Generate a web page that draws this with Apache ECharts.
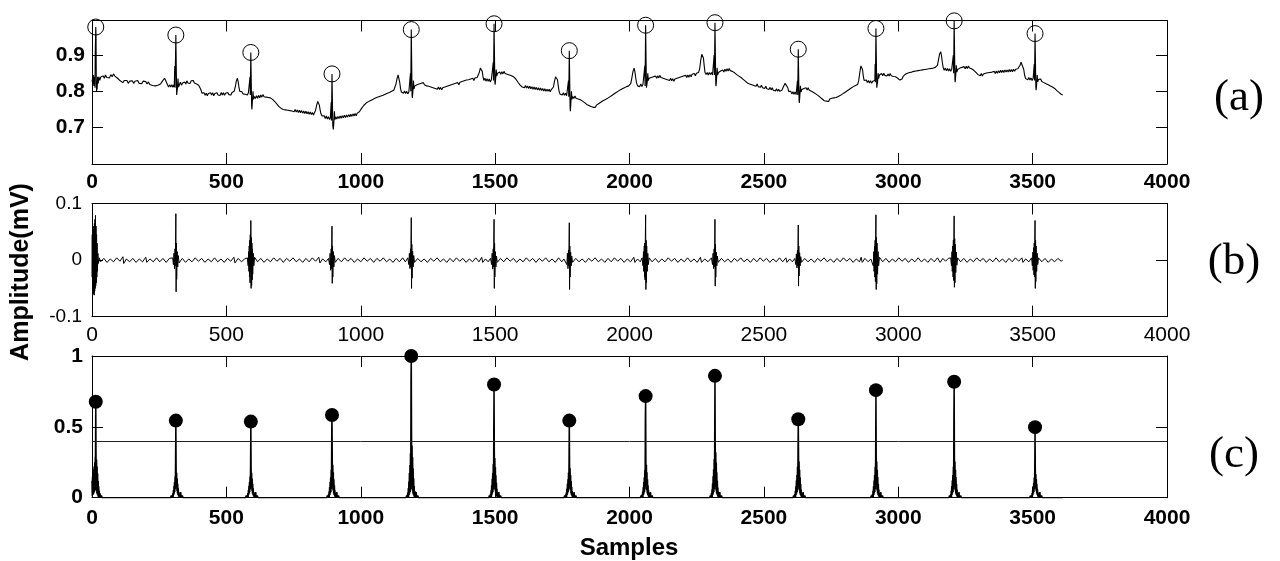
<!DOCTYPE html>
<html>
<head>
<meta charset="utf-8">
<script src="https://cdn.jsdelivr.net/npm/echarts@6/dist/echarts.min.js"></script>
<style>html,body{margin:0;padding:0;background:#fff}#chart{width:1280px;height:561px}</style>
</head>
<body>
<div id="chart"></div>
<script>
// ---------------- DATA ----------------
const panelLabels = ['(a)', '(b)', '(c)'];
const xAxisTitle = 'Samples';
const yAxisTitle = 'Amplitude(mV)';
const threshold = 0.4;

// detected R-peak sample positions
const rPeakSamples = [14, 312, 591, 893, 1188, 1496, 1776, 2060, 2318, 2628, 2917, 3208, 3509];
// R-peak amplitudes in the raw ECG (panel a)
const rPeakAmp = [0.977, 0.955, 0.907, 0.848, 0.970, 0.986, 0.912, 0.982, 0.989, 0.916, 0.973, 0.994, 0.959];
// detection-signal peak values (panel c)
const detPeakAmp = [0.677, 0.544, 0.537, 0.584, 1.0, 0.799, 0.544, 0.717, 0.86, 0.554, 0.759, 0.818, 0.498];

// raw ECG trace (panel a): [sample, mV]
const ecgRaw = [
[0,0.832],[3,0.82],[5,0.845],[7,0.815],[9,0.84],[11,0.81],[12,0.9],[13,0.94],[14,0.977],[15,0.955],[16,0.82],[17,0.80],[18,0.83],[19,0.805],[21,0.84],[23,0.822],[26,0.84],[29,0.83],[33,0.84],[37,0.835],
[42,0.842],[46,0.836],[50,0.845],[55,0.838],[60,0.843],[65,0.837],[70,0.846],[75,0.84],[80,0.848],[85,0.842],[90,0.845],[95,0.836],[100,0.839],[105,0.829],[110,0.832],[115,0.824],[120,0.83],[125,0.826],[130,0.83],[135,0.822],[140,0.828],[145,0.823],[150,0.829],[155,0.822],[160,0.828],[165,0.824],[170,0.83],[175,0.822],[180,0.827],[185,0.821],[190,0.828],[195,0.823],[200,0.827],[205,0.82],[210,0.826],[215,0.819],[220,0.823],[225,0.816],[230,0.821],[235,0.815],[240,0.82],[245,0.817],[250,0.822],[255,0.82],[260,0.826],[265,0.83],[270,0.836],[273,0.838],[277,0.825],[281,0.818],[285,0.812],[289,0.818],[293,0.812],[297,0.818],[301,0.811],[304,0.818],
[306,0.812],[308,0.87],[309,0.81],[312,0.955],[315,0.79],[316,0.786],[318,0.81],[320,0.835],[322,0.812],[325,0.818],
[329,0.825],[333,0.817],[337,0.823],[341,0.818],[345,0.826],[349,0.82],[353,0.829],[357,0.823],[361,0.828],[365,0.822],[369,0.829],[373,0.824],[377,0.83],[381,0.823],[385,0.827],[389,0.82],[393,0.824],[397,0.817],[401,0.815],[405,0.805],[409,0.795],[413,0.79],[417,0.796],[421,0.789],[425,0.795],[429,0.788],[433,0.794],[437,0.789],[441,0.796],[445,0.79],[449,0.796],[453,0.788],[457,0.794],[461,0.789],[465,0.796],[469,0.79],[473,0.795],[477,0.789],[481,0.797],[485,0.79],[489,0.796],[493,0.789],[497,0.795],[501,0.79],[505,0.797],[509,0.791],[513,0.796],[517,0.79],[521,0.797],[525,0.792],[529,0.8],[533,0.812],[537,0.828],[541,0.836],[544,0.826],[547,0.81],[550,0.8],[554,0.795],[558,0.799],[562,0.793],[566,0.798],[570,0.792],[574,0.797],[578,0.79],[582,0.796],[585,0.792],
[586,0.80],[588,0.84],[589,0.79],[591,0.907],[594,0.76],[595,0.75],[597,0.775],[599,0.80],[601,0.778],[604,0.786],
[608,0.78],[612,0.788],[616,0.781],[620,0.789],[624,0.782],[628,0.79],[632,0.784],[636,0.791],[640,0.785],[644,0.79],[648,0.784],[652,0.789],[656,0.783],[660,0.788],[664,0.782],[668,0.786],[672,0.778],[676,0.78],[680,0.772],[684,0.773],[688,0.765],[692,0.766],[696,0.758],[700,0.76],[704,0.753],[708,0.757],[712,0.75],[716,0.755],[720,0.749],[724,0.754],[728,0.748],[732,0.753],[736,0.747],[740,0.752],[744,0.746],[748,0.751],[752,0.744],[756,0.75],[760,0.743],[764,0.749],[768,0.742],[772,0.748],[776,0.741],[780,0.747],[784,0.74],[788,0.746],[792,0.739],[796,0.745],[800,0.738],[804,0.744],[808,0.737],[812,0.743],[816,0.736],[820,0.742],[824,0.735],[828,0.74],[832,0.748],[836,0.762],[840,0.772],[843,0.775],[846,0.762],[849,0.748],[852,0.738],[856,0.732],[860,0.728],[864,0.733],[868,0.725],[872,0.732],[876,0.724],[880,0.73],[884,0.722],[887,0.728],
[888,0.73],[890,0.77],[891,0.72],[893,0.848],[896,0.705],[898,0.695],[900,0.715],[902,0.745],[904,0.722],[907,0.73],
[911,0.724],[915,0.731],[919,0.725],[923,0.732],[927,0.726],[931,0.733],[935,0.727],[939,0.734],[943,0.728],[947,0.735],[951,0.729],[955,0.736],[959,0.73],[963,0.737],[967,0.731],[971,0.738],[975,0.732],[979,0.739],[983,0.733],[987,0.74],[991,0.735],[995,0.744],[999,0.745],[1003,0.753],[1007,0.754],[1011,0.761],[1015,0.76],[1019,0.767],[1023,0.765],[1027,0.771],[1031,0.768],[1035,0.774],[1039,0.771],[1043,0.777],[1047,0.774],[1051,0.78],[1055,0.777],[1059,0.783],[1063,0.779],[1067,0.785],[1071,0.781],[1075,0.787],[1079,0.783],[1083,0.789],[1087,0.785],[1091,0.792],[1095,0.788],[1099,0.795],[1103,0.791],[1107,0.797],[1111,0.793],[1115,0.8],[1119,0.796],[1123,0.803],[1127,0.805],[1131,0.82],[1135,0.835],[1139,0.845],[1142,0.84],[1145,0.825],[1148,0.808],[1151,0.798],[1155,0.802],[1159,0.795],[1163,0.801],[1167,0.794],[1171,0.8],[1175,0.793],[1179,0.799],[1183,0.794],
[1184,0.80],[1185,0.85],[1186,0.8],[1188,0.97],[1191,0.79],[1192,0.782],[1194,0.8],[1196,0.83],[1198,0.806],[1201,0.815],
[1205,0.811],[1209,0.818],[1213,0.813],[1217,0.82],[1221,0.815],[1225,0.822],[1229,0.817],[1233,0.824],[1237,0.818],[1241,0.822],[1245,0.815],[1249,0.82],[1253,0.814],[1257,0.819],[1261,0.812],[1265,0.817],[1269,0.81],[1273,0.815],[1277,0.808],[1281,0.813],[1285,0.806],[1289,0.812],[1293,0.805],[1297,0.811],[1301,0.804],[1305,0.81],[1309,0.805],[1313,0.812],[1317,0.807],[1321,0.814],[1325,0.809],[1329,0.816],[1333,0.811],[1337,0.818],[1341,0.813],[1345,0.82],[1349,0.815],[1353,0.822],[1357,0.817],[1361,0.824],[1365,0.818],[1369,0.825],[1373,0.82],[1377,0.827],[1381,0.822],[1385,0.829],[1389,0.824],[1393,0.831],[1397,0.826],[1401,0.832],[1405,0.827],[1409,0.834],[1413,0.829],[1417,0.836],[1421,0.83],[1425,0.837],[1429,0.832],[1433,0.838],[1437,0.84],[1441,0.852],[1445,0.864],[1449,0.866],[1452,0.855],[1455,0.84],[1458,0.83],[1462,0.836],[1466,0.828],[1470,0.835],[1474,0.828],[1478,0.834],[1482,0.826],[1486,0.832],[1490,0.827],
[1491,0.835],[1493,0.88],[1494,0.83],[1496,0.986],[1499,0.825],[1500,0.818],[1502,0.835],[1504,0.86],[1506,0.842],[1509,0.85],
[1513,0.845],[1517,0.853],[1521,0.847],[1525,0.854],[1529,0.848],[1533,0.855],[1537,0.849],[1541,0.854],[1545,0.847],[1549,0.852],[1553,0.845],[1557,0.85],[1561,0.843],[1565,0.848],[1569,0.84],[1573,0.843],[1577,0.834],[1581,0.835],[1585,0.825],[1589,0.826],[1593,0.817],[1597,0.82],[1601,0.812],[1605,0.817],[1609,0.81],[1613,0.816],[1617,0.809],[1621,0.815],[1625,0.808],[1629,0.814],[1633,0.807],[1637,0.813],[1641,0.806],[1645,0.812],[1649,0.805],[1653,0.811],[1657,0.804],[1661,0.81],[1665,0.803],[1669,0.809],[1673,0.802],[1677,0.808],[1681,0.801],[1685,0.807],[1689,0.8],[1693,0.806],[1697,0.8],[1701,0.806],[1705,0.799],[1709,0.805],[1713,0.801],[1717,0.812],[1721,0.828],[1725,0.84],[1729,0.845],[1732,0.832],[1735,0.815],[1738,0.8],[1742,0.792],[1746,0.797],[1750,0.79],[1754,0.796],[1758,0.789],[1762,0.795],[1766,0.788],[1770,0.793],
[1771,0.79],[1773,0.83],[1774,0.785],[1776,0.912],[1779,0.755],[1780,0.745],[1782,0.77],[1784,0.80],[1786,0.778],[1789,0.786],
[1793,0.78],[1797,0.787],[1801,0.781],[1805,0.786],[1809,0.779],[1813,0.784],[1817,0.777],[1821,0.781],[1825,0.773],[1829,0.777],[1833,0.769],[1837,0.772],[1841,0.764],[1845,0.768],[1849,0.761],[1853,0.765],[1857,0.758],[1861,0.762],[1865,0.756],[1869,0.76],[1873,0.756],[1877,0.762],[1881,0.759],[1885,0.766],[1889,0.763],[1893,0.77],[1897,0.767],[1901,0.774],[1905,0.771],[1909,0.777],[1913,0.774],[1917,0.78],[1921,0.777],[1925,0.784],[1929,0.781],[1933,0.788],[1937,0.785],[1941,0.792],[1945,0.789],[1949,0.796],[1953,0.793],[1957,0.8],[1961,0.797],[1965,0.804],[1969,0.8],[1973,0.807],[1977,0.803],[1981,0.81],[1985,0.806],[1989,0.813],[1993,0.809],[1997,0.815],[2001,0.812],[2005,0.822],[2009,0.838],[2013,0.855],[2017,0.864],[2020,0.855],[2023,0.838],[2026,0.824],[2030,0.815],[2034,0.82],[2038,0.813],[2042,0.82],[2046,0.813],[2050,0.819],[2054,0.814],
[2055,0.82],[2057,0.87],[2058,0.815],[2060,0.982],[2063,0.81],[2064,0.805],[2066,0.825],[2068,0.85],[2070,0.83],[2073,0.836],
[2077,0.831],[2081,0.838],[2085,0.833],[2089,0.84],[2093,0.835],[2097,0.842],[2101,0.836],[2105,0.843],[2109,0.837],[2113,0.844],[2117,0.838],[2121,0.843],[2125,0.836],[2129,0.841],[2133,0.834],[2137,0.839],[2141,0.832],[2145,0.837],[2149,0.83],[2153,0.836],[2157,0.829],[2161,0.835],[2165,0.828],[2169,0.834],[2173,0.829],[2177,0.836],[2181,0.831],[2185,0.838],[2189,0.833],[2193,0.84],[2197,0.835],[2201,0.842],[2205,0.837],[2209,0.844],[2213,0.838],[2217,0.845],[2221,0.839],[2225,0.846],[2229,0.84],[2233,0.847],[2237,0.842],[2241,0.849],[2245,0.843],[2249,0.85],[2253,0.845],[2257,0.852],[2261,0.862],[2265,0.885],[2269,0.902],[2272,0.905],[2275,0.892],[2278,0.87],[2281,0.852],[2285,0.846],[2289,0.852],[2293,0.845],[2297,0.852],[2301,0.846],[2305,0.852],[2309,0.845],[2312,0.85],
[2313,0.85],[2315,0.9],[2316,0.845],[2318,0.989],[2321,0.82],[2322,0.814],[2324,0.835],[2326,0.865],[2328,0.845],[2331,0.852],
[2335,0.848],[2339,0.856],[2343,0.851],[2347,0.859],[2351,0.853],[2355,0.861],[2359,0.855],[2363,0.862],[2367,0.856],[2371,0.863],[2375,0.857],[2379,0.862],[2383,0.855],[2387,0.859],[2391,0.851],[2395,0.854],[2399,0.846],[2403,0.85],[2407,0.842],[2411,0.846],[2415,0.838],[2419,0.841],[2423,0.833],[2427,0.836],[2431,0.828],[2435,0.831],[2439,0.823],[2443,0.827],[2447,0.82],[2451,0.825],[2455,0.818],[2459,0.823],[2463,0.816],[2467,0.821],[2471,0.814],[2475,0.82],[2479,0.813],[2483,0.818],[2487,0.811],[2491,0.817],[2495,0.81],[2499,0.815],[2503,0.808],[2507,0.814],[2511,0.807],[2515,0.812],[2519,0.805],[2523,0.811],[2527,0.804],[2531,0.81],[2535,0.803],[2539,0.808],[2543,0.801],[2547,0.807],[2551,0.8],[2555,0.806],[2559,0.8],[2563,0.805],[2567,0.803],[2571,0.81],[2575,0.815],[2579,0.822],[2583,0.827],[2586,0.82],[2589,0.81],[2592,0.8],[2596,0.797],[2600,0.8],[2604,0.793],[2608,0.799],[2612,0.792],[2616,0.798],[2620,0.791],[2623,0.796],
[2624,0.795],[2625,0.83],[2626,0.79],[2628,0.916],[2631,0.775],[2632,0.768],[2634,0.79],[2636,0.815],[2638,0.798],[2641,0.805],
[2645,0.801],[2649,0.808],[2653,0.803],[2657,0.81],[2661,0.804],[2665,0.81],[2669,0.803],[2673,0.808],[2677,0.8],[2681,0.805],[2685,0.797],[2689,0.801],[2693,0.793],[2697,0.797],[2701,0.789],[2705,0.792],[2709,0.784],[2713,0.787],[2717,0.779],[2721,0.782],[2725,0.774],[2729,0.779],[2733,0.773],[2737,0.778],[2741,0.772],[2745,0.779],[2749,0.774],[2753,0.781],[2757,0.776],[2761,0.782],[2765,0.777],[2769,0.783],[2773,0.779],[2777,0.786],[2781,0.782],[2785,0.789],[2789,0.786],[2793,0.793],[2797,0.79],[2801,0.797],[2805,0.794],[2809,0.801],[2813,0.798],[2817,0.805],[2821,0.802],[2825,0.809],[2829,0.806],[2833,0.813],[2837,0.809],[2841,0.816],[2845,0.812],[2849,0.819],[2853,0.83],[2857,0.852],[2861,0.87],[2864,0.873],[2867,0.86],[2870,0.842],[2873,0.83],[2877,0.826],[2881,0.831],[2885,0.824],[2889,0.83],[2893,0.823],[2897,0.829],[2901,0.822],[2905,0.828],[2909,0.823],[2912,0.826],
[2913,0.83],[2914,0.875],[2915,0.825],[2917,0.973],[2920,0.81],[2921,0.805],[2923,0.825],[2925,0.85],[2927,0.835],[2930,0.845],
[2934,0.842],[2938,0.849],[2942,0.843],[2946,0.85],[2950,0.844],[2954,0.849],[2958,0.842],[2962,0.848],[2966,0.842],[2970,0.849],[2974,0.843],[2978,0.847],[2982,0.841],[2986,0.846],[2990,0.84],[2994,0.843],[2998,0.836],[3002,0.838],[3006,0.831],[3010,0.835],[3014,0.834],[3018,0.841],[3022,0.84],[3026,0.847],[3030,0.844],[3034,0.85],[3038,0.846],[3042,0.852],[3046,0.847],[3050,0.853],[3054,0.848],[3058,0.855],[3062,0.85],[3066,0.856],[3070,0.851],[3074,0.857],[3078,0.852],[3082,0.858],[3086,0.853],[3090,0.859],[3094,0.854],[3098,0.86],[3102,0.855],[3106,0.861],[3110,0.856],[3114,0.862],[3118,0.857],[3122,0.863],[3126,0.858],[3130,0.864],[3134,0.86],[3138,0.866],[3142,0.864],[3146,0.872],[3150,0.888],[3154,0.903],[3158,0.909],[3161,0.898],[3164,0.88],[3167,0.866],[3171,0.858],[3175,0.864],[3179,0.857],[3183,0.863],[3187,0.856],[3191,0.862],[3195,0.855],[3199,0.861],[3203,0.856],
[3204,0.86],[3205,0.9],[3206,0.85],[3208,0.994],[3211,0.832],[3212,0.825],[3214,0.845],[3216,0.872],[3218,0.853],[3221,0.86],
[3225,0.856],[3229,0.864],[3233,0.859],[3237,0.866],[3241,0.861],[3245,0.868],[3249,0.862],[3253,0.869],[3257,0.863],[3261,0.87],[3265,0.864],[3269,0.869],[3273,0.862],[3277,0.866],[3281,0.858],[3285,0.86],[3289,0.852],[3293,0.854],[3297,0.846],[3301,0.85],[3305,0.843],[3309,0.849],[3313,0.842],[3317,0.848],[3321,0.843],[3325,0.85],[3329,0.845],[3333,0.851],[3337,0.846],[3341,0.852],[3345,0.847],[3349,0.853],[3353,0.848],[3357,0.855],[3361,0.849],[3365,0.856],[3369,0.85],[3373,0.857],[3377,0.851],[3381,0.858],[3385,0.852],[3389,0.858],[3393,0.852],[3397,0.859],[3401,0.853],[3405,0.859],[3409,0.853],[3413,0.86],[3417,0.854],[3421,0.86],[3425,0.854],[3429,0.861],[3433,0.855],[3437,0.861],[3441,0.856],[3445,0.862],[3449,0.865],[3453,0.872],[3457,0.88],[3461,0.884],[3464,0.875],[3467,0.86],[3470,0.845],[3474,0.835],[3478,0.84],[3482,0.832],[3486,0.838],[3490,0.831],[3494,0.837],[3498,0.83],[3502,0.836],[3504,0.832],
[3505,0.835],[3506,0.875],[3507,0.83],[3509,0.959],[3512,0.81],[3513,0.803],[3515,0.82],[3517,0.845],[3519,0.826],[3522,0.833],
[3526,0.828],[3530,0.834],[3534,0.827],[3538,0.832],[3542,0.824],[3546,0.829],[3550,0.821],[3554,0.826],[3558,0.818],[3562,0.823],[3566,0.815],[3570,0.82],[3574,0.812],[3578,0.817],[3582,0.808],[3586,0.811],[3590,0.802],[3594,0.805],[3598,0.797],[3602,0.799],[3606,0.792],[3610,0.794],[3612,0.79]
];

// filtered ECG (panel b): [sample, mV]
const ecgFiltered = [
[0,-0.03],[1,0.045],[2,-0.05],[3,0.05],[4,-0.058],[5,0.055],[6,-0.06],[7,0.06],[8,-0.062],[9,0.065],[10,-0.055],[11,0.072],[12,-0.05],[13,0.079],[14,-0.045],[15,0.06],[16,-0.04],[17,0.045],[18,-0.03],[19,0.03],[20,-0.02],[22,0.012],[24,-0.006],[27,0.004],
[32,-0.003],[44,0.003],[56,-0.004],[68,0.002],[80,-0.003],[92,0.004],[104,-0.002],[115,0.006],[118,-0.006],[128,0.002],[140,-0.003],[152,0.003],[164,-0.004],[176,0.002],[188,-0.003],[200,0.005],[204,-0.004],[216,0.002],[228,-0.003],[240,0.004],[252,-0.003],[264,0.003],[276,-0.004],[288,0.003],
[300,0.004],[303,-0.008],[305,0.012],[307,-0.015],[309,0.02],[310,-0.01],[311,0.033],[312,0.082],[313,-0.056],[314,0.03],[315,-0.034],[317,0.015],[319,-0.012],[321,0.008],[324,-0.005],
[336,0.003],[348,-0.004],[360,0.002],[372,-0.003],[384,0.004],[396,-0.002],[408,0.003],[420,-0.004],[432,0.002],[444,-0.003],[456,0.004],[468,-0.003],[480,0.002],[492,-0.004],[504,0.003],[516,-0.002],[528,0.005],[532,-0.005],[544,0.003],[556,-0.003],[568,0.002],
[578,0.004],[581,-0.01],[583,0.015],[584,-0.02],[585,0.025],[586,-0.03],[587,0.035],[588,-0.04],[589,0.045],[590,-0.02],[591,0.07],[592,-0.05],[593,0.04],[594,-0.045],[595,0.03],[596,-0.035],[597,0.02],[598,-0.025],[600,0.012],[602,-0.01],[605,0.005],
[616,-0.003],[628,0.003],[640,-0.004],[652,0.002],[664,-0.003],[676,0.004],[688,-0.002],[700,0.003],[712,-0.004],[724,0.003],[736,-0.002],[748,0.004],[760,-0.003],[772,0.002],[784,-0.004],[796,0.003],[808,-0.003],[820,0.004],[832,-0.002],[844,0.005],[848,-0.005],[858,0.002],[870,-0.003],
[880,0.003],[884,-0.008],[886,0.012],[888,-0.018],[890,0.02],[891,-0.015],[892,0.03],[893,0.06],[894,-0.041],[895,0.025],[896,-0.03],[898,0.015],[900,-0.012],[902,0.008],[905,-0.004],
[916,0.003],[928,-0.003],[940,0.004],[952,-0.002],[964,0.003],[976,-0.004],[988,0.002],[1000,-0.003],[1012,0.004],[1024,-0.002],[1036,0.003],[1048,-0.004],[1060,0.003],[1072,-0.002],[1084,0.004],[1096,-0.003],[1108,0.002],[1120,-0.004],[1132,0.003],[1144,-0.003],[1156,0.004],[1166,-0.003],
[1175,0.004],[1179,-0.008],[1181,0.012],[1183,-0.015],[1185,0.02],[1186,-0.012],[1187,0.03],[1188,0.075],[1189,-0.05],[1190,0.028],[1191,-0.032],[1193,0.016],[1195,-0.012],[1197,0.008],[1200,-0.004],
[1212,0.003],[1224,-0.003],[1236,0.002],[1248,-0.004],[1260,0.003],[1272,-0.002],[1284,0.004],[1296,-0.003],[1308,0.002],[1320,-0.004],[1332,0.003],[1344,-0.003],[1356,0.004],[1368,-0.002],[1380,0.003],[1392,-0.004],[1404,0.002],[1416,-0.003],[1428,0.004],[1440,-0.003],[1450,0.005],[1454,-0.004],[1464,0.002],[1474,-0.003],
[1483,0.003],[1487,-0.008],[1489,0.012],[1491,-0.016],[1493,0.02],[1494,-0.012],[1495,0.03],[1496,0.072],[1497,-0.05],[1498,0.03],[1499,-0.03],[1501,0.015],[1503,-0.012],[1505,0.007],[1508,-0.004],
[1520,0.003],[1532,-0.003],[1544,0.004],[1556,-0.002],[1568,0.003],[1580,-0.004],[1592,0.002],[1604,-0.003],[1616,0.004],[1628,-0.002],[1640,0.003],[1652,-0.004],[1664,0.003],[1676,-0.002],[1688,0.004],[1700,-0.003],[1712,0.002],[1724,-0.004],[1736,0.004],[1748,-0.003],[1756,0.002],
[1763,0.004],[1767,-0.008],[1769,0.012],[1771,-0.015],[1773,0.018],[1774,-0.01],[1775,0.028],[1776,0.066],[1777,-0.052],[1778,0.025],[1779,-0.03],[1781,0.014],[1783,-0.01],[1785,0.007],[1788,-0.004],
[1800,0.003],[1812,-0.003],[1824,0.002],[1836,-0.004],[1848,0.003],[1860,-0.002],[1872,0.004],[1884,-0.003],[1896,0.002],[1908,-0.004],[1920,0.003],[1932,-0.003],[1944,0.004],[1956,-0.002],[1968,0.003],[1980,-0.004],[1992,0.002],[2004,-0.003],[2016,0.005],[2020,-0.004],[2030,0.002],[2040,-0.003],
[2047,0.004],[2050,-0.01],[2052,0.015],[2053,-0.02],[2055,0.025],[2056,-0.03],[2057,0.03],[2058,-0.035],[2059,0.04],[2060,0.08],[2061,-0.052],[2062,0.035],[2063,-0.04],[2064,0.025],[2066,-0.02],[2068,0.012],[2070,-0.008],[2073,0.004],
[2084,-0.003],[2096,0.003],[2108,-0.004],[2120,0.002],[2132,-0.003],[2144,0.004],[2156,-0.002],[2168,0.003],[2180,-0.004],[2192,0.002],[2204,-0.003],[2216,0.004],[2228,-0.003],[2240,0.002],[2252,-0.004],[2264,0.005],[2268,-0.004],[2280,0.002],[2292,-0.003],
[2305,0.004],[2309,-0.008],[2311,0.012],[2313,-0.015],[2315,0.02],[2316,-0.012],[2317,0.03],[2318,0.072],[2319,-0.046],[2320,0.028],[2321,-0.03],[2323,0.014],[2325,-0.01],[2327,0.007],[2330,-0.004],
[2342,0.003],[2354,-0.003],[2366,0.002],[2378,-0.004],[2390,0.003],[2402,-0.002],[2414,0.004],[2426,-0.003],[2438,0.002],[2450,-0.004],[2462,0.003],[2474,-0.003],[2486,0.004],[2498,-0.002],[2510,0.003],[2522,-0.004],[2534,0.002],[2546,-0.003],[2558,0.004],[2570,-0.003],[2582,0.004],[2586,-0.004],[2596,0.002],[2606,-0.003],
[2615,0.003],[2619,-0.008],[2621,0.011],[2623,-0.014],[2625,0.018],[2626,-0.01],[2627,0.026],[2628,0.062],[2629,-0.046],[2630,0.025],[2631,-0.028],[2633,0.013],[2635,-0.01],[2637,0.006],[2640,-0.004],
[2652,0.003],[2664,-0.003],[2676,0.002],[2688,-0.004],[2700,0.003],[2712,-0.002],[2724,0.004],[2736,-0.003],[2748,0.002],[2760,-0.004],[2772,0.003],[2784,-0.003],[2796,0.004],[2808,-0.002],[2820,0.003],[2832,-0.004],[2844,0.002],[2856,-0.003],[2862,0.005],[2866,-0.004],[2876,0.003],[2888,-0.003],[2898,0.002],
[2904,0.004],[2907,-0.01],[2909,0.015],[2910,-0.02],[2912,0.025],[2913,-0.03],[2914,0.035],[2915,-0.038],[2916,0.045],[2917,0.08],[2918,-0.052],[2919,0.04],[2920,-0.042],[2921,0.03],[2923,-0.025],[2925,0.015],[2927,-0.01],[2930,0.005],
[2942,-0.003],[2954,0.003],[2966,-0.004],[2978,0.002],[2990,-0.003],[3002,0.004],[3014,-0.002],[3026,0.003],[3038,-0.004],[3050,0.002],[3062,-0.003],[3074,0.004],[3086,-0.003],[3098,0.002],[3110,-0.004],[3122,0.003],[3134,-0.003],[3146,0.004],[3156,-0.004],[3166,0.003],[3176,-0.002],[3186,0.003],
[3195,0.004],[3198,-0.01],[3200,0.015],[3201,-0.02],[3203,0.025],[3204,-0.03],[3205,0.035],[3206,-0.036],[3207,0.04],[3208,0.078],[3209,-0.048],[3210,0.038],[3211,-0.04],[3212,0.028],[3214,-0.022],[3216,0.014],[3218,-0.009],[3221,0.004],
[3232,-0.003],[3244,0.003],[3256,-0.004],[3268,0.002],[3280,-0.003],[3292,0.004],[3304,-0.002],[3316,0.003],[3328,-0.004],[3340,0.002],[3352,-0.003],[3364,0.004],[3376,-0.003],[3388,0.002],[3400,-0.004],[3412,0.003],[3424,-0.003],[3436,0.004],[3448,-0.002],[3460,0.004],[3464,-0.004],[3474,0.002],[3486,-0.003],
[3496,0.004],[3499,-0.01],[3501,0.014],[3502,-0.018],[3504,0.022],[3505,-0.026],[3506,0.03],[3507,-0.03],[3508,0.035],[3509,0.07],[3510,-0.05],[3511,0.035],[3512,-0.038],[3513,0.025],[3515,-0.02],[3517,0.012],[3519,-0.008],[3522,0.004],
[3534,-0.003],[3546,0.003],[3558,-0.004],[3570,0.002],[3582,-0.003],[3594,0.003],[3606,-0.002],[3612,0.0]
];

// detection signal (panel c): [sample, normalised value]
const detSignal = [
[0,0.12],[1,0.01],[2,0.15],[3,0.02],[4,0.18],[5,0.02],[6,0.2],[7,0.03],[8,0.22],[9,0.04],[10,0.25],[11,0.05],[12,0.28],[13,0.30],[14,0.677],[15,0.29],[16,0.05],[17,0.27],[18,0.03],[19,0.22],[20,0.02],[21,0.17],[22,0.01],[23,0.12],[24,0],[25,0.08],[26,0],[27,0.05],[28,0],[30,0.03],[32,0],[35,0.015],[38,0],
[292,0],[295,0.015],[297,0],[299,0.018],[300,0],[301,0.033],[302,0.005],[303,0.055],[304,0.02],[305,0.084],[306,0.03],[307,0.11],[308,0.04],[309,0.15],[310,0.06],[311,0.26],[312,0.544],[313,0.21],[314,0.08],[315,0.176],[316,0.05],[317,0.136],[318,0.03],[319,0.099],[320,0.02],[321,0.066],[322,0.01],[323,0.04],[324,0],[326,0.022],[327,0],[330,0.04],[332,0],[336,0.015],[339,0],
[571,0],[574,0.015],[576,0],[578,0.018],[579,0],[580,0.033],[581,0.005],[582,0.055],[583,0.02],[584,0.084],[585,0.03],[586,0.11],[587,0.04],[588,0.15],[589,0.06],[590,0.23],[591,0.537],[592,0.21],[593,0.08],[594,0.176],[595,0.05],[596,0.136],[597,0.03],[598,0.099],[599,0.02],[600,0.066],[601,0.01],[602,0.04],[603,0],[605,0.022],[606,0],[609,0.04],[611,0],[615,0.015],[618,0],
[873,0],[876,0.015],[878,0],[880,0.023],[881,0],[882,0.044],[883,0.005],[884,0.073],[885,0.02],[886,0.11],[887,0.03],[888,0.145],[889,0.04],[890,0.197],[891,0.06],[892,0.46],[893,0.584],[894,0.276],[895,0.08],[896,0.232],[897,0.05],[898,0.18],[899,0.03],[900,0.13],[901,0.02],[902,0.087],[903,0.01],[904,0.052],[905,0],[907,0.029],[908,0],[911,0.04],[913,0],[917,0.015],[920,0],
[1168,0],[1171,0.015],[1173,0],[1175,0.037],[1176,0],[1177,0.069],[1178,0.005],[1179,0.115],[1180,0.02],[1181,0.175],[1182,0.03],[1183,0.23],[1184,0.04],[1185,0.313],[1186,0.06],[1187,0.82],[1188,1.0],[1189,0.437],[1190,0.08],[1191,0.368],[1192,0.05],[1193,0.285],[1194,0.03],[1195,0.207],[1196,0.02],[1197,0.138],[1198,0.01],[1199,0.083],[1200,0],[1202,0.046],[1203,0],[1206,0.04],[1208,0],[1212,0.015],[1215,0],
[1476,0],[1479,0.015],[1481,0],[1483,0.028],[1484,0],[1485,0.053],[1486,0.005],[1487,0.088],[1488,0.02],[1489,0.133],[1490,0.03],[1491,0.175],[1492,0.04],[1493,0.238],[1494,0.06],[1495,0.49],[1496,0.799],[1497,0.333],[1498,0.08],[1499,0.28],[1500,0.05],[1501,0.217],[1502,0.03],[1503,0.158],[1504,0.02],[1505,0.105],[1506,0.01],[1507,0.063],[1508,0],[1510,0.035],[1511,0],[1514,0.04],[1516,0],[1520,0.015],[1523,0],
[1756,0],[1759,0.015],[1761,0],[1763,0.021],[1764,0],[1765,0.039],[1766,0.005],[1767,0.065],[1768,0.02],[1769,0.099],[1770,0.03],[1771,0.13],[1772,0.04],[1773,0.177],[1774,0.06],[1775,0.26],[1776,0.544],[1777,0.247],[1778,0.08],[1779,0.208],[1780,0.05],[1781,0.161],[1782,0.03],[1783,0.117],[1784,0.02],[1785,0.078],[1786,0.01],[1787,0.047],[1788,0],[1790,0.026],[1791,0],[1794,0.04],[1796,0],[1800,0.015],[1803,0],
[2040,0],[2043,0.015],[2045,0],[2047,0.023],[2048,0],[2049,0.044],[2050,0.005],[2051,0.073],[2052,0.02],[2053,0.11],[2054,0.03],[2055,0.145],[2056,0.04],[2057,0.197],[2058,0.06],[2059,0.55],[2060,0.717],[2061,0.276],[2062,0.08],[2063,0.232],[2064,0.05],[2065,0.18],[2066,0.03],[2067,0.13],[2068,0.02],[2069,0.087],[2070,0.01],[2071,0.052],[2072,0],[2074,0.029],[2075,0],[2078,0.04],[2080,0],[2084,0.015],[2087,0],
[2298,0],[2301,0.015],[2303,0],[2305,0.032],[2306,0],[2307,0.06],[2308,0.005],[2309,0.1],[2310,0.02],[2311,0.152],[2312,0.03],[2313,0.2],[2314,0.04],[2315,0.272],[2316,0.06],[2317,0.40],[2318,0.86],[2319,0.38],[2320,0.08],[2321,0.32],[2322,0.05],[2323,0.248],[2324,0.03],[2325,0.18],[2326,0.02],[2327,0.12],[2328,0.01],[2329,0.072],[2330,0],[2332,0.04],[2333,0],[2336,0.04],[2338,0],[2342,0.015],[2345,0],
[2608,0],[2611,0.015],[2613,0],[2615,0.026],[2616,0],[2617,0.048],[2618,0.005],[2619,0.08],[2620,0.02],[2621,0.122],[2622,0.03],[2623,0.16],[2624,0.04],[2625,0.218],[2626,0.06],[2627,0.32],[2628,0.554],[2629,0.304],[2630,0.08],[2631,0.256],[2632,0.05],[2633,0.198],[2634,0.03],[2635,0.144],[2636,0.02],[2637,0.096],[2638,0.01],[2639,0.058],[2640,0],[2642,0.032],[2643,0],[2646,0.04],[2648,0],[2652,0.015],[2655,0],
[2897,0],[2900,0.015],[2902,0],[2904,0.026],[2905,0],[2906,0.048],[2907,0.005],[2908,0.08],[2909,0.02],[2910,0.122],[2911,0.03],[2912,0.16],[2913,0.04],[2914,0.218],[2915,0.06],[2916,0.32],[2917,0.759],[2918,0.304],[2919,0.08],[2920,0.256],[2921,0.05],[2922,0.198],[2923,0.03],[2924,0.144],[2925,0.02],[2926,0.096],[2927,0.01],[2928,0.058],[2929,0],[2931,0.032],[2932,0],[2935,0.04],[2937,0],[2941,0.015],[2944,0],
[3188,0],[3191,0.015],[3193,0],[3195,0.026],[3196,0],[3197,0.048],[3198,0.005],[3199,0.08],[3200,0.02],[3201,0.122],[3202,0.03],[3203,0.16],[3204,0.04],[3205,0.218],[3206,0.06],[3207,0.55],[3208,0.818],[3209,0.304],[3210,0.08],[3211,0.256],[3212,0.05],[3213,0.198],[3214,0.03],[3215,0.144],[3216,0.02],[3217,0.096],[3218,0.01],[3219,0.058],[3220,0],[3222,0.032],[3223,0],[3226,0.04],[3228,0],[3232,0.015],[3235,0],
[3489,0],[3492,0.015],[3494,0],[3496,0.017],[3497,0],[3498,0.032],[3499,0.005],[3500,0.053],[3501,0.02],[3502,0.08],[3503,0.03],[3504,0.105],[3505,0.04],[3506,0.143],[3507,0.06],[3508,0.21],[3509,0.498],[3510,0.2],[3511,0.08],[3512,0.168],[3513,0.05],[3514,0.13],[3515,0.03],[3516,0.095],[3517,0.02],[3518,0.063],[3519,0.01],[3520,0.038],[3521,0],[3523,0.021],[3524,0],[3527,0.04],[3529,0],[3533,0.015],[3536,0],
[3612,0]
];

// axis ranges
const xRange = {min: 0, max: 4000, interval: 500};
const yRangeA = {min: 0.6, max: 0.995, interval: 0.1};
const yRangeB = {min: -0.1, max: 0.1, interval: 0.1};
const yRangeC = {min: 0, max: 1, interval: 0.5};

// ---------------- CHART ----------------
const SANS = '"Liberation Sans", Arial, Helvetica, sans-serif';
const SERIF = '"Liberation Serif", "Times New Roman", serif';
const grids = [
  {left: 92, top: 20.5, width: 1075, height: 143.5},
  {left: 92, top: 203.5, width: 1075, height: 113.2},
  {left: 92, top: 356, width: 1075, height: 141.7}
];
const mkTick = () => ({show: true, inside: false, length: -11, lineStyle: {color: '#000', width: 1}});
const mkLine = () => ({show: true, onZero: false, lineStyle: {color: '#000', width: 1}});
const fmt = v => String(Math.round(v * 10) / 10);

function xAxisPair(gi, labelFont, margin) {
  return [
    {type: 'value', gridIndex: gi, position: 'bottom', ...xRange,
     axisLine: mkLine(), axisTick: mkTick(), splitLine: {show: false},
     axisLabel: {show: true, margin: margin, color: '#000', fontFamily: SANS, fontSize: labelFont.size, fontWeight: labelFont.weight, formatter: v => String(v)}},
    {type: 'value', gridIndex: gi, position: 'top', ...xRange,
     axisLine: mkLine(), axisTick: mkTick(), splitLine: {show: false}, axisLabel: {show: false}}
  ];
}
function yAxisPair(gi, range, labelFont, margin, hideEnds) {
  return [
    {type: 'value', gridIndex: gi, position: 'left', ...range,
     axisLine: mkLine(), axisTick: mkTick(), splitLine: {show: false},
     axisLabel: {show: true, margin: margin, color: '#000', fontFamily: SANS, fontSize: labelFont.size, fontWeight: labelFont.weight,
       showMinLabel: !hideEnds, showMaxLabel: !hideEnds, formatter: fmt}},
    {type: 'value', gridIndex: gi, position: 'right', ...range,
     axisLine: mkLine(), axisTick: mkTick(), splitLine: {show: false}, axisLabel: {show: false}}
  ];
}
const bold = {size: 21, weight: 'bold'};
const regular = {size: 21, weight: 'normal'};
const regularY = {size: 19, weight: 'normal'};

const option = {
  animation: false,
  backgroundColor: '#fff',
  grid: grids.map(g => ({...g, containLabel: false, outerBoundsMode: 'none', show: false})),
  xAxis: [...xAxisPair(0, bold, 8), ...xAxisPair(1, regular, 8), ...xAxisPair(2, bold, 10)],
  yAxis: [...yAxisPair(0, yRangeA, bold, 7, true), ...yAxisPair(1, yRangeB, regularY, 10, false), ...yAxisPair(2, yRangeC, bold, 9, false)],
  series: [
    {type: 'line', xAxisIndex: 0, yAxisIndex: 0, data: ecgRaw, showSymbol: false, sampling: 'none',
     lineStyle: {color: '#000', width: 1.1}, z: 2},
    {type: 'scatter', xAxisIndex: 0, yAxisIndex: 0, data: rPeakSamples.map((s, i) => [s, rPeakAmp[i]]),
     symbol: 'circle', symbolSize: 16, itemStyle: {color: 'rgba(0,0,0,0)', borderColor: '#000', borderWidth: 1, opacity: 1}, z: 3},
    {type: 'line', xAxisIndex: 2, yAxisIndex: 2, data: ecgFiltered, showSymbol: false, sampling: 'none',
     lineStyle: {color: '#000', width: 1}, z: 2},
    {type: 'line', xAxisIndex: 4, yAxisIndex: 4, data: detSignal, showSymbol: false, sampling: 'none',
     lineStyle: {color: '#000', width: 1.5}, z: 2,
     markLine: {silent: true, symbol: ['none', 'none'], label: {show: false},
       lineStyle: {color: '#222', width: 1, type: 'solid'}, data: [{yAxis: threshold}]}},
    {type: 'scatter', xAxisIndex: 4, yAxisIndex: 4, data: rPeakSamples.map((s, i) => [s, detPeakAmp[i]]),
     symbol: 'circle', symbolSize: 14, itemStyle: {color: '#000', opacity: 1}, z: 3}
  ],
  graphic: [
    {type: 'text', x: 21, y: 272, rotation: Math.PI / 2,
     style: {text: yAxisTitle, font: 'bold 25px ' + SANS, fill: '#000', align: 'center', verticalAlign: 'middle', textAlign: 'center', textVerticalAlign: 'middle'}},
    {type: 'text', x: 629, y: 548,
     style: {text: xAxisTitle, font: 'bold 24px ' + SANS, fill: '#000', align: 'center', verticalAlign: 'middle', textAlign: 'center', textVerticalAlign: 'middle'}},
    {type: 'text', x: 1239, y: 98,
     style: {text: panelLabels[0], font: '45px ' + SERIF, fill: '#000', align: 'center', verticalAlign: 'middle', textAlign: 'center', textVerticalAlign: 'middle'}},
    {type: 'text', x: 1234, y: 262,
     style: {text: panelLabels[1], font: '45px ' + SERIF, fill: '#000', align: 'center', verticalAlign: 'middle', textAlign: 'center', textVerticalAlign: 'middle'}},
    {type: 'text', x: 1234, y: 455,
     style: {text: panelLabels[2], font: '45px ' + SERIF, fill: '#000', align: 'center', verticalAlign: 'middle', textAlign: 'center', textVerticalAlign: 'middle'}}
  ]
};
const chart = echarts.init(document.getElementById('chart'), null, {renderer: 'canvas'});
chart.setOption(option);
</script>
</body>
</html>
